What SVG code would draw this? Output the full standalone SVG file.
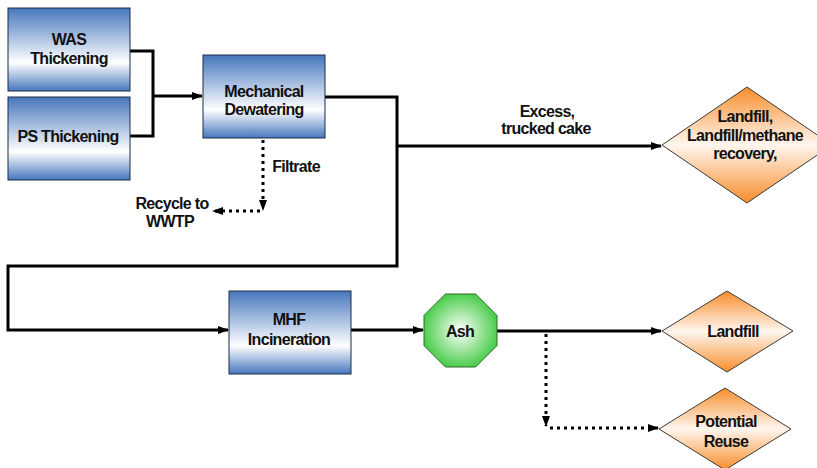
<svg xmlns="http://www.w3.org/2000/svg" width="817" height="468" viewBox="0 0 817 468">
  <defs>
    <linearGradient id="boxFill" x1="0" y1="0" x2="0" y2="1">
      <stop offset="0" stop-color="#4677bd"/>
      <stop offset="0.66" stop-color="#ffffff"/>
      <stop offset="1" stop-color="#4677bd"/>
    </linearGradient>
    <linearGradient id="diamondFill" x1="0" y1="0" x2="0" y2="1">
      <stop offset="0" stop-color="#f78d2a"/>
      <stop offset="0.5" stop-color="#fff6ef"/>
      <stop offset="1" stop-color="#f78d2a"/>
    </linearGradient>
    <radialGradient id="ashFill" cx="0.5" cy="0.5" r="0.55">
      <stop offset="0" stop-color="#ffffff"/>
      <stop offset="1" stop-color="#3dc93d"/>
    </radialGradient>
    <marker id="arrow" markerUnits="userSpaceOnUse" markerWidth="11" markerHeight="8" refX="10" refY="4" orient="auto">
      <path d="M0,0 L11,4 L0,8 Z" fill="#000"/>
    </marker>
  </defs>
  <style>
    .box { fill: url(#boxFill); stroke: #1f2a44; stroke-width: 1; }
    .diamond { fill: url(#diamondFill); stroke: #3a3a3a; stroke-width: 1; }
    .oct { fill: url(#ashFill); stroke: #2e6b2e; stroke-width: 1; }
    .lbl { font-family: "Liberation Sans", Arial, sans-serif; font-weight: bold; font-size: 16px; letter-spacing: -0.7px; fill: #111; text-anchor: middle; }
    .flow { fill: none; stroke: #000; stroke-width: 3; stroke-linejoin: miter; }
    .dot { fill: none; stroke: #000; stroke-width: 3; stroke-dasharray: 3 4; }
  </style>

  <g id="connectors">
    <polyline class="flow" points="130,51 153,51 153,136 130,136"/>
    <line class="flow" x1="153" y1="96" x2="202" y2="96" marker-end="url(#arrow)"/>
    <polyline class="flow" points="325,97 397,97 397,266 8,266 8,330 228,330" marker-end="url(#arrow)"/>
    <line class="flow" x1="397" y1="146" x2="661" y2="146" marker-end="url(#arrow)"/>
    <line class="dot" x1="263" y1="140" x2="263" y2="210" marker-end="url(#arrow)"/>
    <line class="dot" x1="260" y1="211" x2="213" y2="211" marker-end="url(#arrow)"/>
    <line class="flow" x1="351" y1="330" x2="423" y2="330" marker-end="url(#arrow)"/>
    <line class="flow" x1="497" y1="331" x2="661" y2="331" marker-end="url(#arrow)"/>
    <line class="dot" x1="546" y1="334" x2="546" y2="426" marker-end="url(#arrow)"/>
    <line class="dot" x1="550" y1="428" x2="658" y2="428" marker-end="url(#arrow)"/>
  </g>

  <g id="was-thickening">
    <rect class="box" x="8" y="8" width="122" height="83"/>
    <text class="lbl" x="69" y="45">WAS</text>
    <text class="lbl" x="69" y="64">Thickening</text>
  </g>

  <g id="ps-thickening">
    <rect class="box" x="8" y="97" width="122" height="83"/>
    <text class="lbl" x="68" y="142">PS Thickening</text>
  </g>

  <g id="mechanical-dewatering">
    <rect class="box" x="203" y="55" width="122" height="83"/>
    <text class="lbl" x="264" y="97">Mechanical</text>
    <text class="lbl" x="264" y="115">Dewatering</text>
  </g>

  <g id="filtrate-label">
    <text class="lbl" x="296" y="172">Filtrate</text>
  </g>

  <g id="recycle-wwtp">
    <text class="lbl" x="172" y="209">Recycle to</text>
    <text class="lbl" x="170" y="227">WWTP</text>
  </g>

  <g id="cake-label">
    <text class="lbl" x="547" y="117">Excess,</text>
    <text class="lbl" x="546" y="134">trucked cake</text>
  </g>

  <g id="landfill-methane">
    <polygon class="diamond" points="662,145 747,87 832,145 747,203"/>
    <text class="lbl" x="745" y="122">Landfill,</text>
    <text class="lbl" x="745" y="141">Landfill/methane</text>
    <text class="lbl" x="745" y="159">recovery,</text>
  </g>

  <g id="mhf-incineration">
    <rect class="box" x="229" y="291" width="122" height="83"/>
    <text class="lbl" x="289" y="325">MHF</text>
    <text class="lbl" x="289" y="345">Incineration</text>
  </g>

  <g id="ash">
    <polygon class="oct" points="445.4,294 475.6,294 497,315.4 497,345.6 475.6,367 445.4,367 424,345.6 424,315.4"/>
    <text class="lbl" x="460" y="337">Ash</text>
  </g>

  <g id="landfill">
    <polygon class="diamond" points="662,331 727,291 793,331 727,372"/>
    <text class="lbl" x="733" y="337">Landfill</text>
  </g>

  <g id="potential-reuse">
    <polygon class="diamond" points="659,429 725,388 791,429 725,470"/>
    <text class="lbl" x="726" y="427">Potential</text>
    <text class="lbl" x="726" y="447">Reuse</text>
  </g>
</svg>
